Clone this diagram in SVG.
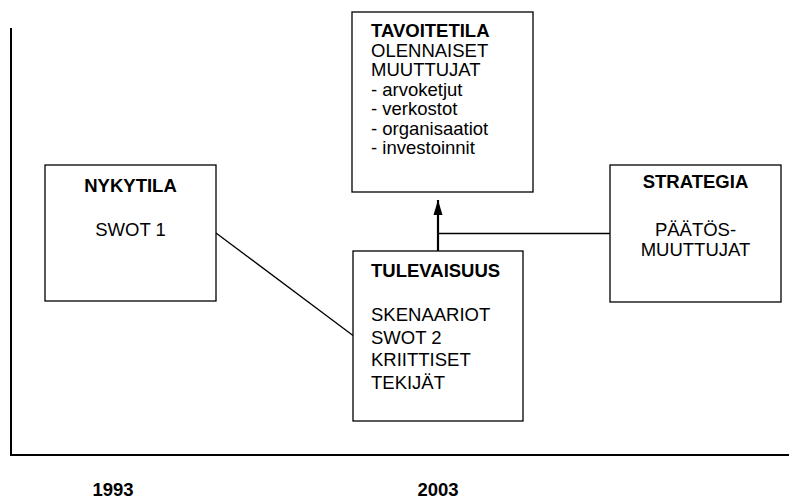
<svg xmlns="http://www.w3.org/2000/svg" width="789" height="500" viewBox="0 0 789 500">
<defs>
<style>
.box{fill:#fff;stroke:#000;stroke-width:1.3}
.t{font-family:"Liberation Sans",Arial,sans-serif;font-size:18.5px;fill:#000}
.b{font-weight:bold}
.c{text-anchor:middle}
.axis{stroke:#000;stroke-width:2;fill:none}
.conn{stroke:#000;stroke-width:1.3;fill:none}
</style>
<marker id="arr" markerWidth="16" markerHeight="10" refX="15" refY="5" orient="auto" markerUnits="userSpaceOnUse" viewBox="0 0 16 10">
<path d="M0,0.5 L15,5 L0,9.5 Z" fill="#000"/>
</marker>
</defs>
<rect width="789" height="500" fill="#fff"/>
<g id="axes">
<line class="axis" x1="11" y1="28" x2="11" y2="456"/>
<line class="axis" x1="10" y1="455" x2="789" y2="455"/>
</g>
<g id="connectors">
<line class="conn" x1="216" y1="233" x2="353" y2="335.5"/>
<line class="conn" x1="438" y1="233.5" x2="610" y2="233.5"/>
<line stroke="#000" stroke-width="2.2" x1="438" y1="251" x2="438" y2="200" marker-end="url(#arr)"/>
</g>
<g id="nykytila">
<rect class="box" x="45" y="165" width="171" height="136"/>
<text class="t b c" x="130.5" y="192">NYKYTILA</text>
<text class="t c" x="130.5" y="236">SWOT 1</text>
</g>
<g id="tavoitetila">
<rect class="box" x="352" y="12" width="181" height="180"/>
<text class="t b" x="371" y="37">TAVOITETILA</text>
<text class="t" x="371" y="56.5">OLENNAISET</text>
<text class="t" x="371" y="76">MUUTTUJAT</text>
<text class="t" x="371" y="95.5">- arvoketjut</text>
<text class="t" x="371" y="115">- verkostot</text>
<text class="t" x="371" y="134.5">- organisaatiot</text>
<text class="t" x="371" y="154">- investoinnit</text>
</g>
<g id="tulevaisuus">
<rect class="box" x="353" y="251" width="170" height="170"/>
<text class="t b" x="371" y="277">TULEVAISUUS</text>
<text class="t" x="371" y="321">SKENAARIOT</text>
<text class="t" x="371" y="343.5">SWOT 2</text>
<text class="t" x="371" y="366">KRIITTISET</text>
<text class="t" x="371" y="388.5">TEKIJÄT</text>
</g>
<g id="strategia">
<rect class="box" x="610" y="165" width="171" height="137"/>
<text class="t b c" x="695.5" y="188">STRATEGIA</text>
<text class="t c" x="695.5" y="236">PÄÄTÖS-</text>
<text class="t c" x="695.5" y="256">MUUTTUJAT</text>
</g>
<g id="years">
<text class="t b c" x="113" y="496">1993</text>
<text class="t b c" x="438" y="496">2003</text>
</g>
</svg>
